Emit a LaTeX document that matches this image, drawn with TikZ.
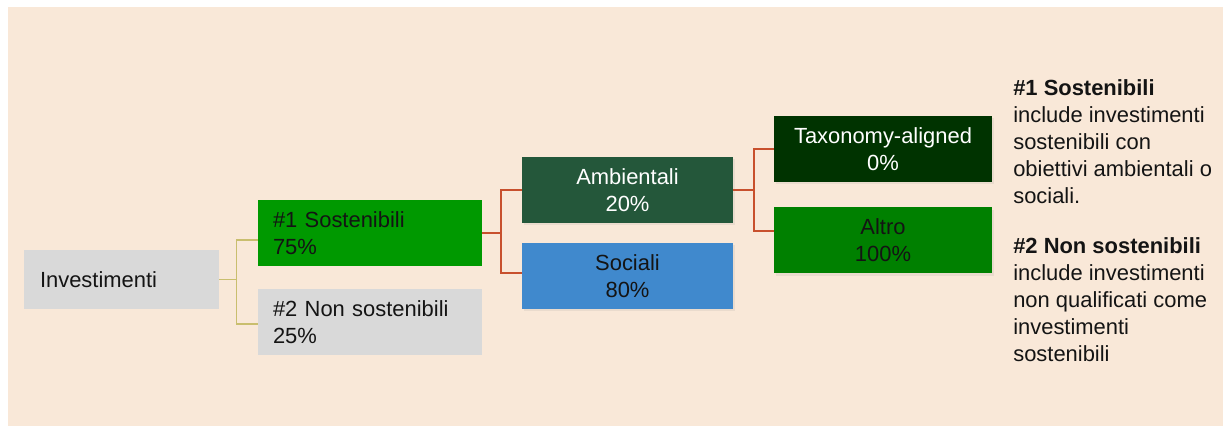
\documentclass[tikz,border=0pt]{standalone}
\usepackage{fontspec}
\setmainfont{Liberation Sans}
\usepackage{xcolor}
\usepackage{tikz}
\usetikzlibrary{shadows}

\definecolor{bgbeige}{RGB}{249,232,216}
\definecolor{boxgray}{RGB}{217,217,217}
\definecolor{susgreen}{RGB}{0,153,0}
\definecolor{envgreen}{RGB}{36,87,58}
\definecolor{socblue}{RGB}{64,137,205}
\definecolor{taxgreen}{RGB}{0,51,0}
\definecolor{othgreen}{RGB}{0,128,0}
\definecolor{linkolive}{RGB}{201,190,110}
\definecolor{linkred}{RGB}{200,80,45}
\definecolor{inkdark}{RGB}{20,20,20}

\begin{document}
\begin{tikzpicture}[scale=1.0,
  font=\fontsize{15.6}{19.2}\selectfont,
  catbox/.style={text=inkdark, minimum height=1.65cm, inner xsep=0.375cm, inner ysep=0pt, text width=4.85cm, align=left},
  subbox/.style={minimum height=1.65cm, inner sep=0pt, align=center, drop shadow={opacity=0.12, shadow xshift=0.06cm, shadow yshift=-0.06cm}},
  olivelink/.style={linkolive, line width=1pt},
  redlink/.style={linkred, line width=1.4pt}]
% Page and background
\useasboundingbox (0,0) rectangle (30.575,10.65);
\fill[bgbeige] (0.2,0) rectangle (30.575,10.475);

% Root
\node[fill=boxgray, text=inkdark, minimum height=1.475cm, inner xsep=0.4cm, inner ysep=0pt, text width=4.075cm, align=left] (inv) at (3.0375,3.6625) {Investimenti};

% First split: #1 / #2
\node[catbox, fill=susgreen] (sus) at (9.25,4.825) {\#1 Sostenibili\\75\%};
\node[catbox, fill=boxgray] (nonsus) at (9.25,2.6) {\#2 Non sostenibili\\25\%};

% Second split: Ambientali / Sociali
\node[subbox, fill=envgreen, text=white, minimum width=5.275cm] (env) at (15.6875,5.9) {Ambientali\\20\%};
\node[subbox, fill=socblue, text=inkdark, minimum width=5.275cm] (soc) at (15.6875,3.75) {Sociali\\80\%};

% Third split: Taxonomy-aligned / Altro
\node[subbox, fill=taxgreen, text=white, minimum width=5.45cm] (tax) at (22.075,6.925) {Taxonomy-aligned\\0\%};
\node[subbox, fill=othgreen, text=inkdark, minimum width=5.45cm] (other) at (22.075,4.6375) {Altro\\100\%};

% Connectors
\draw[olivelink] (inv.east) -- ++(0.425,0) |- ([yshift=-0.175cm]sus.west);
\draw[olivelink] (inv.east) -- ++(0.425,0) |- ([yshift=-0.05cm]nonsus.west);
\draw[redlink] (sus.east) -- ++(0.475,0) |- (env.west);
\draw[redlink] (sus.east) -- ++(0.475,0) |- ([yshift=0.075cm]soc.west);
\draw[redlink] (env.east) -- ++(0.525,0) |- (tax.west);
\draw[redlink] (env.east) -- ++(0.525,0) |- ([yshift=0.24cm]other.west);

% Legend text
\node[anchor=north west, inner sep=0pt, align=left, text=inkdark] (notes) at (25.325,8.675)
  {\textbf{\#1 Sostenibili}\\include investimenti\\sostenibili con\\obiettivi ambientali o\\sociali.\\[0.575cm]%
   \textbf{\#2 Non sostenibili}\\include investimenti\\non qualificati come\\investimenti\\sostenibili};
\end{tikzpicture}
\end{document}
